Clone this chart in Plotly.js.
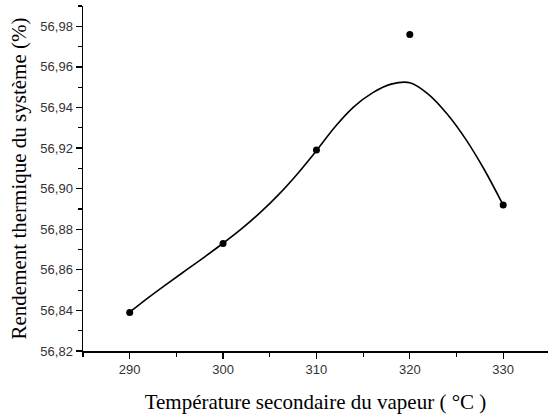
<!DOCTYPE html>
<html>
<head>
<meta charset="utf-8">
<script src="https://cdn.plot.ly/plotly-3.0.1.min.js"></script>
<style>html,body{margin:0;padding:0;background:#fff;}#chart{width:548px;height:419px;}</style>
</head>
<body>
<div id="chart"></div>
<script>
// Measured data points
const temperature = [290, 300, 310, 320, 330];
const efficiency = [56.839, 56.873, 56.919, 56.976, 56.892];

// Smooth fitted curve, every 2 °C
const curveTemperature = [290, 292, 294, 296, 298, 300, 302, 304, 306, 308, 310, 312, 314, 316, 318, 320, 322, 324, 326, 328, 330];
const curveEfficiency = [56.8391, 56.8463, 56.8531, 56.8597, 56.8663, 56.8731, 56.8803, 56.8883, 56.8973, 56.9075, 56.9187, 56.9305, 56.9403, 56.9472, 56.9515, 56.9522, 56.9465, 56.9368, 56.9243, 56.9092, 56.8919];

const xTicks = [290, 300, 310, 320, 330];
const yTicks = [56.82, 56.84, 56.86, 56.88, 56.90, 56.92, 56.94, 56.96, 56.98];

const data = [
  {x: curveTemperature, y: curveEfficiency, type: 'scatter', mode: 'lines',
   line: {color: '#000', width: 1.6, shape: 'spline', smoothing: 1}, hoverinfo: 'skip', showlegend: false},
  {x: temperature, y: efficiency, type: 'scatter', mode: 'markers',
   marker: {color: '#000', size: 7}, showlegend: false}
];

const layout = {
  width: 548, height: 419,
  margin: {l: 83, r: 0, t: 6, b: 68},
  paper_bgcolor: '#fff', plot_bgcolor: '#fff',
  separators: ',.',
  showlegend: false,
  xaxis: {
    range: [285, 334.8], tickvals: xTicks, ticktext: xTicks.map(String),
    showline: true, linecolor: '#000', linewidth: 1.5, mirror: false,
    ticks: 'outside', ticklen: 6, tickwidth: 1.3, tickcolor: '#000',
    minor: {dtick: 5, tick0: 285, ticks: 'outside', ticklen: 4, tickwidth: 1.2, tickcolor: '#000', showgrid: false},
    showgrid: false, zeroline: false,
    tickfont: {family: 'Liberation Sans, Arial, sans-serif', size: 13, color: '#333'},
    title: {text: 'Température secondaire du vapeur ( °C )', standoff: 18,
            font: {family: 'Liberation Serif, Times New Roman, serif', size: 21, color: '#000'}}
  },
  yaxis: {
    range: [56.82, 56.99], tickvals: yTicks, ticktext: yTicks.map(v => v.toFixed(2).replace('.', ',')),
    showline: true, linecolor: '#000', linewidth: 1.5, mirror: false,
    ticks: 'outside', ticklen: 6, tickwidth: 1.3, tickcolor: '#000',
    minor: {dtick: 0.01, tick0: 56.81, ticks: 'outside', ticklen: 4, tickwidth: 1.2, tickcolor: '#000', showgrid: false},
    showgrid: false, zeroline: false,
    tickfont: {family: 'Liberation Sans, Arial, sans-serif', size: 13, color: '#333'},
    title: {text: 'Rendement thermique du système (%)', standoff: 8,
            font: {family: 'Liberation Serif, Times New Roman, serif', size: 21, color: '#000'}}
  }
};

Plotly.newPlot('chart', data, layout, {displayModeBar: false, staticPlot: true});
</script>
</body>
</html>
